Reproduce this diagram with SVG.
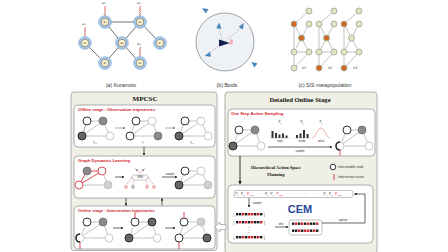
<svg xmlns="http://www.w3.org/2000/svg" xmlns:xlink="http://www.w3.org/1999/xlink" width="448" height="252" viewBox="0 0 448 252">
<style>
.cap{font-family:"Liberation Sans",Arial,sans-serif;font-size:5.2px;fill:#333;text-anchor:middle}
.kn-o{fill:#a9c9e7;stroke:#6d9dcf;stroke-width:0.6}
.kn-i{fill:#fbf2cc;stroke:#333;stroke-width:0.45}
.kt{font-family:"DejaVu Serif","Liberation Serif",serif;font-size:3.2px;text-anchor:middle;fill:#222}
.ke{stroke:#333;stroke-width:0.7;fill:none}
.spr{stroke:#c0392b;stroke-width:0.5;fill:none}
.om{font-family:"DejaVu Serif","Liberation Serif",serif;font-size:3.2px;fill:#333;text-anchor:middle}
.boid{fill:#4a87bb}
.se{stroke:#aaa;stroke-width:0.7;fill:none}
.sl{fill:#dfe6c4;stroke:#aab49c;stroke-width:1}
.so{fill:#d0661f;stroke:#aab49c;stroke-width:1}
.box{fill:#efefe5;stroke:#a0a0a0;stroke-width:0.8}
.ibox{fill:#fff;stroke:#9a9a9a;stroke-width:0.8}
.ttl{font-family:"Liberation Serif",serif;font-weight:bold;fill:#111;text-anchor:middle}
.rt{font-family:"Liberation Sans",Arial,sans-serif;font-weight:bold;font-size:4.2px;fill:#d0202a}
.ge{stroke:#b5b5b5;stroke-width:0.8;fill:none}
.n-hd{fill:#fff;stroke:#333;stroke-width:1}
.n-g{fill:#8a8a8a;stroke:#666;stroke-width:0.7}
.n-df{fill:#666;stroke:#2a2a2a;stroke-width:1}
.n-l{fill:#fff;stroke:#bbb;stroke-width:0.8}
.n-lg{fill:#cfcfcf;stroke:#bbb;stroke-width:0.8}
.n-r{fill:#fff;stroke:#d0202a;stroke-width:0.8}
.re{stroke:#d0202a;stroke-width:0.8;fill:none}
.iv{stroke:#d0202a;stroke-width:0.8}
.sm{font-family:"Liberation Sans",Arial,sans-serif;font-size:2.8px;fill:#333;text-anchor:middle}
.pl{font-family:"Liberation Sans",Arial,sans-serif;font-size:3.2px;fill:#333}
.arr{stroke:#222;stroke-width:0.7;fill:none}
.garr{stroke:#888;stroke-width:0.7;fill:none}
.k{fill:#1a1a1a}
.r{fill:#d0202a}
</style>
<defs>
<marker id="ah" viewBox="0 0 6 6" refX="5" refY="3" markerWidth="4" markerHeight="4" orient="auto"><path d="M0,0 L6,3 L0,6 Z" fill="#222"/></marker>
<marker id="ahg" viewBox="0 0 6 6" refX="5" refY="3" markerWidth="4" markerHeight="4" orient="auto"><path d="M0,0 L6,3 L0,6 Z" fill="#777"/></marker>
<path id="spring" d="M0,0 l1,0.6 l-2,1.2 l2,1.2 l-2,1.2 l2,1.2 l-2,1.2 l2,1.2 l-2,1.2 l1,0.6"/>
<path id="tri" d="M3.5,0 L-2.5,-2.6 L-2.5,2.6 Z"/>
<g id="seqA"><rect x="0" y="0" width="2.4" height="2.4" class="k"/><rect x="3" y="0" width="2.4" height="2.4" class="k"/><rect x="6" y="0" width="2.4" height="2.4" class="r"/><rect x="9" y="0" width="2.4" height="2.4" class="k"/><rect x="12" y="0" width="2.4" height="2.4" class="r"/><rect x="15" y="0" width="2.4" height="2.4" class="r"/><rect x="18" y="0" width="2.4" height="2.4" class="k"/><rect x="21" y="0" width="2.4" height="2.4" class="r"/><rect x="24" y="0" width="2.4" height="2.4" class="k"/></g>
<g id="seqB"><rect x="0" y="0" width="2.4" height="2.4" class="k"/><rect x="3" y="0" width="2.4" height="2.4" class="r"/><rect x="6" y="0" width="2.4" height="2.4" class="k"/><rect x="9" y="0" width="2.4" height="2.4" class="r"/><rect x="12" y="0" width="2.4" height="2.4" class="k"/><rect x="15" y="0" width="2.4" height="2.4" class="r"/><rect x="18" y="0" width="2.4" height="2.4" class="k"/><rect x="21" y="0" width="2.4" height="2.4" class="k"/><rect x="24" y="0" width="2.4" height="2.4" class="r"/></g>
</defs>
<rect width="448" height="252" fill="#fff"/>

<!-- (a) Kuramoto -->
<g id="kuramoto">
<g class="ke">
<line x1="105" y1="22" x2="140" y2="22"/><line x1="105" y1="22" x2="122" y2="43"/><line x1="140" y1="22" x2="122" y2="43"/><line x1="140" y1="22" x2="160" y2="43"/><line x1="85" y1="43" x2="105" y2="63"/><line x1="105" y1="63" x2="122" y2="43"/><line x1="122" y1="43" x2="140" y2="63"/>
</g>
<g class="spr"><use xlink:href="#spring" x="105" y="6"/><use xlink:href="#spring" x="140" y="6"/><use xlink:href="#spring" x="85" y="27"/><use xlink:href="#spring" x="140" y="47"/></g>
<text class="om" x="104" y="4">ω₂</text><text class="om" x="139" y="4">ω₃</text><text class="om" x="84" y="25">ω₁</text><text class="om" x="139" y="45">ω₆</text>
<g id="k1"><circle class="kn-o" cx="85" cy="43" r="6.3"/><circle class="kn-i" cx="85" cy="43" r="3.8"/><text class="kt" x="85" y="44.2">x₁</text></g>
<g id="k2"><circle class="kn-o" cx="105" cy="22" r="6.3"/><circle class="kn-i" cx="105" cy="22" r="3.8"/><text class="kt" x="105" y="23.2">x₂</text></g>
<g id="k3"><circle class="kn-o" cx="140" cy="22" r="6.3"/><circle class="kn-i" cx="140" cy="22" r="3.8"/><text class="kt" x="140" y="23.2">x₃</text></g>
<g id="k4"><circle class="kn-o" cx="122" cy="43" r="6.3"/><circle class="kn-i" cx="122" cy="43" r="3.8"/><text class="kt" x="122" y="44.2">x₄</text></g>
<g id="k5"><circle class="kn-o" cx="105" cy="63" r="6.3"/><circle class="kn-i" cx="105" cy="63" r="3.8"/><text class="kt" x="105" y="64.2">x₅</text></g>
<g id="k6"><circle class="kn-o" cx="140" cy="63" r="6.3"/><circle class="kn-i" cx="140" cy="63" r="3.8"/><text class="kt" x="140" y="64.2">x₆</text></g>
<g id="k7"><circle class="kn-o" cx="160" cy="43" r="6.3"/><circle class="kn-i" cx="160" cy="43" r="3.8"/><text class="kt" x="160" y="44.2">x₇</text></g>
<text class="cap" x="121" y="86.5">(a) Kuramoto</text>
</g>

<!-- (b) Boids -->
<g id="boids">
<circle cx="225" cy="42" r="29" fill="#eef2f7" stroke="#8a8a8a" stroke-width="0.8"/>
<g stroke="#777" stroke-width="0.5" stroke-dasharray="1.2,1"><line x1="223" y1="43" x2="219" y2="28"/><line x1="223" y1="43" x2="241" y2="28"/><line x1="223" y1="43" x2="210" y2="53"/></g>
<g class="boid">
<use xlink:href="#tri" transform="translate(205,10) rotate(-150)"/>
<use xlink:href="#tri" transform="translate(219,26) rotate(-85)"/>
<use xlink:href="#tri" transform="translate(242,26) rotate(-60)"/>
<use xlink:href="#tri" transform="translate(208,55) rotate(165)"/>
<use xlink:href="#tri" transform="translate(254,64) rotate(-140)"/>
</g>
<path d="M230,39 A3,3 0 0 1 230,45 Z" fill="#f4b0b0"/>
<path d="M230,43 L219,39.5 L219,46.5 Z" fill="#0e1f4d"/>
<text class="cap" x="227" y="86.5">(b) Boids</text>
</g>

<!-- (c) SIS metapopulation -->
<g id="sis">
<g class="se">
<path d="M309,11 L294,24 L294,52 M294,24 L301.5,38 L309,24 M301.5,38 L294,52 M301.5,38 L309,52 M294,52 L309,52 L294,68 M294,52 L294,68"/>
<path d="M334,11 L319,24 L319,52 M319,24 L326.5,38 L334,24 M326.5,38 L319,52 M326.5,38 L334,52 M319,52 L334,52 L319,68 M319,52 L319,68"/>
<path d="M359,11 L344,24 L344,52 M344,24 L351.5,38 L359,24 M351.5,38 L344,52 M351.5,38 L359,52 M344,52 L359,52 L344,68 M344,52 L344,68"/>
</g>
<g id="sis1"><circle class="sl" cx="309" cy="11" r="3"/><circle class="so" cx="294" cy="24" r="3"/><circle class="sl" cx="309" cy="24" r="3"/><circle class="so" cx="301.5" cy="38" r="3"/><circle class="sl" cx="294" cy="52" r="3"/><circle class="sl" cx="309" cy="52" r="3"/><circle class="sl" cx="294" cy="68" r="3"/></g>
<g id="sis2"><circle class="sl" cx="334" cy="11" r="3"/><circle class="sl" cx="319" cy="24" r="3"/><circle class="sl" cx="334" cy="24" r="3"/><circle class="so" cx="326.5" cy="38" r="3"/><circle class="sl" cx="319" cy="52" r="3"/><circle class="sl" cx="334" cy="52" r="3"/><circle class="so" cx="319" cy="68" r="3"/></g>
<g id="sis3"><circle class="sl" cx="359" cy="11" r="3"/><circle class="so" cx="344" cy="24" r="3"/><circle class="sl" cx="359" cy="24" r="3"/><circle class="sl" cx="351.5" cy="38" r="3"/><circle class="sl" cx="344" cy="52" r="3"/><circle class="sl" cx="359" cy="52" r="3"/><circle class="so" cx="344" cy="68" r="3"/></g>
<text class="sm" x="304" y="69">t=1</text><text class="sm" x="330" y="69">t=2</text><text class="sm" x="355" y="69">t=3</text>
<text class="cap" x="325" y="86.5">(c) SIS metapopulation</text>
</g>

<!-- MPCSC -->
<g id="mpcsc">
<rect class="box" x="71" y="92" width="146" height="158.5" rx="3"/>
<text class="ttl" x="145" y="100.5" font-size="7">MPCSC</text>
</g>

<g id="offline">
<rect class="ibox" x="74" y="105" width="141" height="42" rx="4"/>
<text class="rt" x="78" y="111">Offline stage : Observation trajectories</text>
<g class="ge"><path d="M87,121 L103,121 L110,136 L82,136 Z M87,121 L82,136 M103,121 L82,136"/><path d="M136,121 L152,121 L158,136 L130,136 Z M103,121 M152,121 L130,136"/><path d="M185,121 L201,121 L208,136 L179,136 Z M201,121 L179,136"/></g>
<circle class="n-hd" cx="87" cy="121" r="4"/><circle class="n-g" cx="103" cy="121" r="4"/><circle class="n-df" cx="82" cy="136" r="4"/><circle class="n-l" cx="110" cy="136" r="4"/>
<circle class="n-hd" cx="136" cy="121" r="4"/><circle class="n-l" cx="152" cy="121" r="4"/><circle class="n-hd" cx="130" cy="136" r="4"/><circle class="n-g" cx="158" cy="136" r="4"/>
<circle class="n-hd" cx="185" cy="121" r="4"/><circle class="n-l" cx="201" cy="121" r="4"/><circle class="n-df" cx="179" cy="136" r="4"/><circle class="n-l" cx="208" cy="136" r="4"/>
<text class="sm" x="95" y="143">s<tspan font-size="2" dy="0.6">t-1</tspan></text>
<text class="sm" x="143" y="143">s<tspan font-size="2" dy="0.6">t</tspan></text>
<text class="sm" x="192" y="143">s<tspan font-size="2" dy="0.6">t+1</tspan></text>
<line class="garr" x1="115" y1="128" x2="125" y2="128" marker-end="url(#ahg)"/>
<line class="garr" x1="165" y1="128" x2="175" y2="128" marker-end="url(#ahg)"/>
</g>

<g id="gdl">
<rect class="ibox" x="74" y="156" width="141" height="42" rx="4"/>
<text class="rt" x="78" y="162">Graph Dynamics Learning</text>
<g class="re"><path d="M87,171 L102,171 L79,185 L87,171"/></g>
<g class="ge"><path d="M79,185 L108,185 L102,171"/></g>
<circle class="n-g" cx="87" cy="171" r="4" stroke="#222" stroke-width="1"/><circle class="n-r" cx="102" cy="171" r="4"/><circle class="n-r" cx="79" cy="185" r="4"/><circle class="n-lg" cx="108" cy="185" r="4"/>
<line class="arr" x1="115" y1="177" x2="124" y2="177" marker-end="url(#ah)"/>
<circle cx="137" cy="170" r="0.8" fill="#333"/><circle cx="143" cy="170" r="0.8" fill="#333"/>
<g stroke="#d0202a" stroke-width="0.5" stroke-dasharray="1,0.8" fill="none"><path d="M132,177 L126,186 M135,179 L132,186 M145,179 L148,186 M148,177 L154,186 M140,173 L134,168 M140,173 L146,168"/></g>
<rect x="132" y="175" width="16" height="5" rx="2.5" fill="#fff" stroke="#888" stroke-width="0.5"/>
<text class="sm" x="140" y="178.3" font-size="2.4">GNN</text>
<circle cx="126" cy="187" r="1.3" fill="#fff" stroke="#d0202a" stroke-width="0.5"/><circle cx="133" cy="187" r="1.3" fill="#fff" stroke="#333" stroke-width="0.5"/><circle cx="147" cy="187" r="1.3" fill="#fff" stroke="#d0202a" stroke-width="0.5"/><circle cx="154" cy="187" r="1.3" fill="#fff" stroke="#d0202a" stroke-width="0.5"/>
<text class="sm" x="170" y="175">sample</text>
<line class="arr" x1="162" y1="177" x2="177" y2="177" marker-end="url(#ah)"/>
<g class="ge"><path d="M185,171 L201,171 L208,185 L179,185 Z M201,171 L179,185"/></g>
<circle class="n-hd" cx="185" cy="171" r="4"/><circle class="n-l" cx="201" cy="171" r="4"/><circle class="n-df" cx="179" cy="185" r="4"/><circle class="n-lg" cx="208" cy="185" r="4"/>
</g>

<g id="online">
<rect class="ibox" x="74" y="206" width="141" height="43" rx="4"/>
<text class="rt" x="78" y="212">Online stage : Intervention trajectories</text>
<g class="ge"><path d="M87,222 L103,222 L109,238 L80,238 Z M103,222 L80,238"/><path d="M135,222 L152,222 L157,238 L129,238 Z M152,222 L129,238"/><path d="M184,222 L201,222 L207,238 L179,238 Z M201,222 L179,238"/></g>
<circle class="n-hd" cx="87" cy="222" r="4"/><circle class="n-g" cx="103" cy="222" r="4"/><circle class="n-l" cx="80" cy="238" r="4"/><path d="M80,234 A4,4 0 0 0 80,242" fill="none" stroke="#222" stroke-width="1.6"/><circle class="n-l" cx="109" cy="238" r="4"/>
<line class="iv" x1="80" y1="242" x2="80" y2="249"/>
<circle class="n-hd" cx="135" cy="222" r="4"/><circle class="n-df" cx="152" cy="222" r="4"/><circle class="n-df" cx="129" cy="238" r="4"/><circle class="n-l" cx="157" cy="238" r="4"/>
<line class="iv" x1="135" y1="212" x2="135" y2="218"/>
<circle class="n-hd" cx="184" cy="222" r="4"/><circle class="n-lg" cx="201" cy="222" r="4"/><circle class="n-hd" cx="179" cy="238" r="4"/><circle class="n-df" cx="207" cy="238" r="4"/>
<line class="iv" x1="184" y1="212" x2="184" y2="218"/><line class="iv" x1="179" y1="242" x2="179" y2="249"/>
<line class="arr" x1="113" y1="228" x2="123" y2="228" marker-end="url(#ah)"/>
<line class="arr" x1="165" y1="228" x2="175" y2="228" marker-end="url(#ah)"/>
</g>

<!-- Detailed Online Stage -->
<g id="detailed">
<rect class="box" x="225" y="92" width="152" height="162" rx="3"/>
<text class="ttl" x="300" y="102" font-size="6.6">Detailed Online Stage</text>
</g>

<g id="onestep">
<rect class="ibox" x="228" y="109" width="147" height="47" rx="4"/>
<text class="rt" x="231" y="114.5">One Step Action Sampling</text>
<g class="ge"><path d="M239,130 L255,130 L261,146 L233,146 Z M255,130 L233,146"/></g>
<circle class="n-hd" cx="239" cy="130" r="4"/><circle class="n-g" cx="255" cy="130" r="4"/><circle class="n-df" cx="233" cy="146" r="4"/><circle class="n-l" cx="261" cy="146" r="4"/>
<text class="sm" x="280" y="123" font-size="3.2">P<tspan font-size="2.2" dy="0.7">1</tspan></text>
<g fill="#333"><rect x="271.5" y="131" width="2" height="7"/><rect x="275" y="133" width="2" height="5"/><rect x="278.5" y="134.5" width="2" height="3.5"/><rect x="282" y="133.5" width="2" height="4.5"/><rect x="285.5" y="135.5" width="2" height="2.5"/></g>
<line x1="270" y1="138" x2="289" y2="138" stroke="#666" stroke-width="0.3"/>
<text class="sm" x="280" y="141.5" font-size="2.4">topk</text>
<text class="sm" x="302" y="123" font-size="3.2">P<tspan font-size="2.2" dy="0.7">2</tspan></text>
<g fill="#333"><rect x="296" y="135" width="2" height="3"/><rect x="299.5" y="133.5" width="2" height="4.5"/><rect x="303" y="130" width="2" height="8"/><rect x="306.5" y="134" width="2" height="4"/></g>
<line x1="295" y1="138" x2="310" y2="138" stroke="#666" stroke-width="0.3"/>
<text class="sm" x="302" y="141.5" font-size="2.4">mode</text>
<text class="sm" x="321" y="123" font-size="3.2" fill="#d0202a">P<tspan font-size="2.2" dy="0.7">n</tspan></text>
<path d="M312,138 C316,138 317,128 321,128 C325,128 326,138 330,138" fill="none" stroke="#e06060" stroke-width="0.5"/>
<text class="sm" x="321" y="141.5" font-size="2.4" fill="#d0202a">value</text>
<line class="arr" x1="268" y1="147" x2="332" y2="147" marker-end="url(#ah)"/>
<text class="sm" x="300" y="151.5" font-size="2.4">sample</text>
<g class="ge"><path d="M347,130 L362,130 L369,146 L340,146 Z M362,130 L340,146"/></g>
<circle class="n-hd" cx="347" cy="130" r="4"/><circle class="n-g" cx="362" cy="130" r="4"/><circle class="n-l" cx="340" cy="146" r="4"/><path d="M340,142 A4,4 0 0 0 340,150" fill="none" stroke="#222" stroke-width="1.6"/><circle class="n-l" cx="369" cy="146" r="4"/>
<line class="iv" x1="340" y1="150" x2="340" y2="155.5"/>
</g>

<g id="legend">
<circle class="n-hd" cx="333" cy="167" r="2.8"/>
<text class="pl" x="338" y="168" font-size="2.6">Intervenable node</text>
<line class="iv" x1="334" y1="174" x2="334" y2="180"/>
<text class="pl" x="338" y="178" font-size="2.6">Intervention action</text>
</g>

<g id="hasp">
<text class="ttl" x="276" y="169" font-size="4.5">Hierarchical Action Space</text>
<text class="ttl" x="276" y="175.5" font-size="4.5">Planning</text>
</g>

<g id="cem">
<rect class="ibox" x="228" y="185" width="145" height="58" rx="4"/>
<rect x="234" y="190.5" width="119" height="7" rx="2.5" fill="#fff" stroke="#999" stroke-width="0.6"/>
<g font-family="Liberation Sans,Arial,sans-serif" font-size="3.2" fill="#333">
<text x="235.5" y="195.3">P<tspan font-size="2" dy="0.6">1</tspan></text><text x="241" y="195.3">P<tspan font-size="2" dy="0.6">2</tspan></text><text x="247" y="195.3" fill="#d0202a">P<tspan font-size="2" dy="0.6">value</tspan></text>
<text x="265" y="195.3">P<tspan font-size="2" dy="0.6">1</tspan></text><text x="270.5" y="195.3">P<tspan font-size="2" dy="0.6">2</tspan></text><text x="276.5" y="195.3" fill="#d0202a">P<tspan font-size="2" dy="0.6">value</tspan></text>
<text x="302" y="195.3">· · ·</text>
<text x="323.5" y="195.3">P<tspan font-size="2" dy="0.6">1</tspan></text><text x="329" y="195.3">P<tspan font-size="2" dy="0.6">2</tspan></text><text x="335" y="195.3" fill="#d0202a">P<tspan font-size="2" dy="0.6">value</tspan></text>
</g>
<line class="arr" x1="249" y1="198" x2="249" y2="207" marker-end="url(#ah)"/>
<text class="sm" x="257" y="204" font-size="2.4">sample</text>
<g font-family="Liberation Sans,Arial,sans-serif" font-size="3.2" fill="#333">
<text x="233.5" y="215.8">[</text><text x="264" y="215.8">]</text>
<text x="233.5" y="223.8">[</text><text x="264" y="223.8">]</text>
<text x="233.5" y="238.8">[</text><text x="264" y="238.8">]</text>
</g>
<use xlink:href="#seqA" x="236" y="213"/><use xlink:href="#seqB" x="236" y="221"/><use xlink:href="#seqA" x="236" y="236"/>
<g fill="#555"><circle cx="249" cy="227.5" r="0.4"/><circle cx="249" cy="230" r="0.4"/><circle cx="249" cy="232.5" r="0.4"/></g>
<text x="300" y="213" font-family="Liberation Sans,Arial,sans-serif" font-weight="bold" font-size="11" fill="#2a4a9c" text-anchor="middle">CEM</text>
<text class="sm" x="281" y="224.5" font-size="2.4">elite</text>
<line class="arr" x1="275" y1="227" x2="288" y2="227" marker-end="url(#ah)"/>
<rect x="289" y="220" width="33" height="15" rx="2.5" fill="#fff" stroke="#999" stroke-width="0.6"/>
<use xlink:href="#seqB" x="292" y="222.5"/><use xlink:href="#seqA" x="292" y="229.5"/>
<text class="sm" x="343" y="220.5" font-size="2.4">update</text>
<path class="arr" d="M322,223 L365,223 L365,194 L354.5,194" marker-end="url(#ah)"/>
</g>

<g id="connectors">
<line class="arr" x1="144" y1="147" x2="144" y2="155" marker-end="url(#ah)"/>
<line class="arr" x1="126" y1="198" x2="126" y2="205.5" marker-end="url(#ah)"/>
<line class="arr" x1="162" y1="205.5" x2="162" y2="198.5" marker-end="url(#ah)"/>
<line x1="240" y1="156" x2="240" y2="184" stroke="#222" stroke-width="0.9" marker-end="url(#ah)"/>
<polygon points="215,227 220,222 220,224.5 226,224.5 226,229.5 220,229.5 220,232" fill="#fff" stroke="#888" stroke-width="0.6"/>
</g>
</svg>
